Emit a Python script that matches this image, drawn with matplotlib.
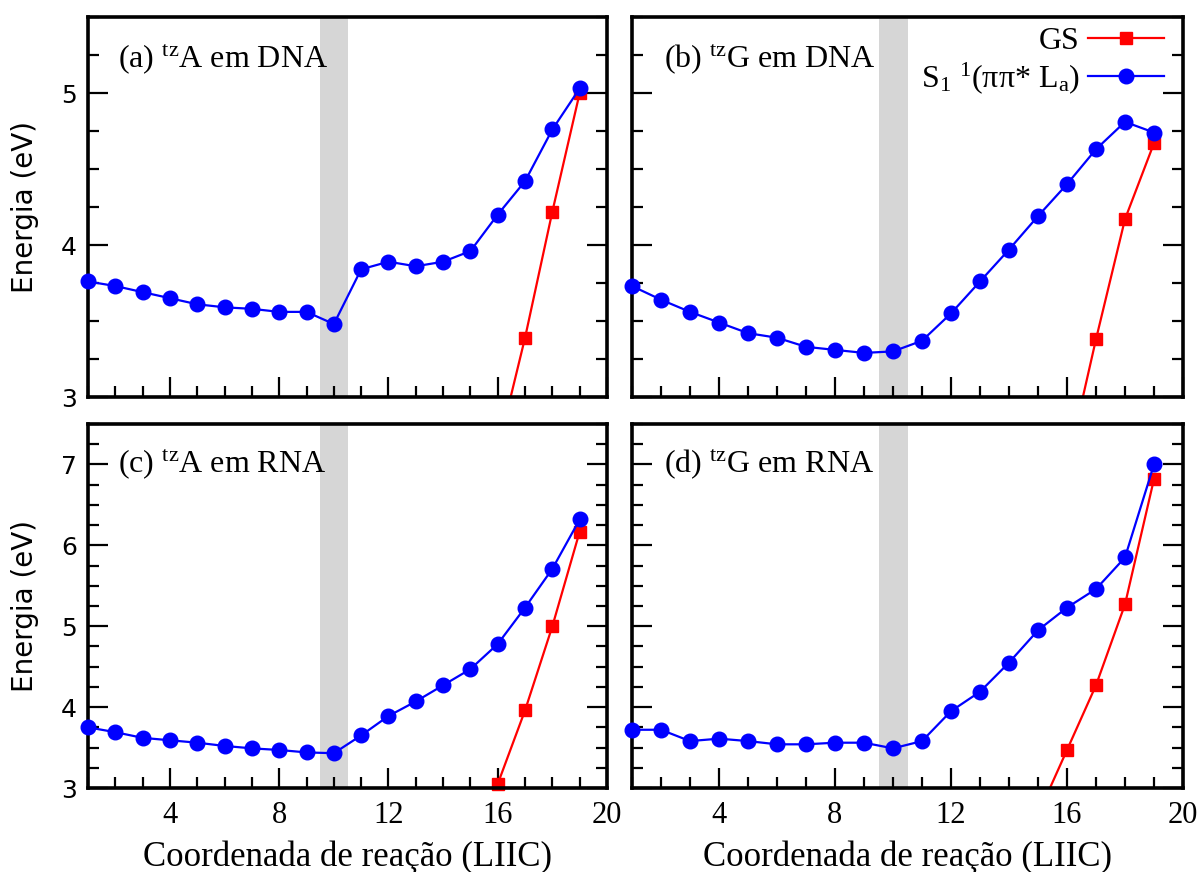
import matplotlib
matplotlib.use("Agg")
import matplotlib.pyplot as plt
from matplotlib.ticker import MultipleLocator

plt.rcParams['font.family'] = ['Liberation Serif', 'DejaVu Serif']
plt.rcParams['mathtext.fontset'] = 'custom'
plt.rcParams['mathtext.rm'] = 'Liberation Serif'
plt.rcParams['mathtext.it'] = 'Liberation Serif:italic'

# reaction coordinate (LIIC points)
x_s1 = list(range(1, 20))

# S1 1(pipi* La) energies (eV)
s1_a = [3.76, 3.73, 3.69, 3.65, 3.61, 3.59, 3.58, 3.56, 3.56, 3.48,
        3.84, 3.89, 3.86, 3.89, 3.96, 4.20, 4.42, 4.76, 5.03]
s1_b = [3.73, 3.64, 3.56, 3.49, 3.42, 3.39, 3.33, 3.31, 3.29, 3.30,
        3.37, 3.55, 3.76, 3.97, 4.19, 4.40, 4.63, 4.81, 4.74]
s1_c = [3.75, 3.69, 3.62, 3.59, 3.56, 3.52, 3.49, 3.47, 3.44, 3.43,
        3.65, 3.89, 4.07, 4.27, 4.47, 4.78, 5.23, 5.71, 6.32]
s1_d = [3.72, 3.72, 3.58, 3.61, 3.58, 3.54, 3.54, 3.56, 3.56, 3.49,
        3.58, 3.95, 4.19, 4.55, 4.95, 5.23, 5.46, 5.85, 7.00]

# ground state energies (eV)
gs_x_a = [16, 17, 18, 19]
gs_a = [2.65, 3.39, 4.22, 5.00]
gs_x_b = [16, 17, 18, 19]
gs_b = [2.54, 3.38, 4.17, 4.67]
gs_x_c = [16, 17, 18, 19]
gs_c = [3.05, 3.96, 5.00, 6.17]
gs_x_d = [15, 16, 17, 18, 19]
gs_d = [2.67, 3.47, 4.27, 5.27, 6.82]

labels = ['(a) $^{\\mathrm{tz}}$A em DNA', '(b) $^{\\mathrm{tz}}$G em DNA',
          '(c) $^{\\mathrm{tz}}$A em RNA', '(d) $^{\\mathrm{tz}}$G em RNA']

W, H = 1202, 872
fig = plt.figure(figsize=(W / 100, H / 100), dpi=100)


def make_ax(l, t, r, b):
    return fig.add_axes([l / W, 1 - b / H, (r - l) / W, (b - t) / H])


boxes = [(88, 17, 607, 397), (632, 17, 1183, 397),
         (88, 424, 607, 788), (632, 424, 1183, 788)]
s1_all = [s1_a, s1_b, s1_c, s1_d]
gs_all = [(gs_x_a, gs_a), (gs_x_b, gs_b), (gs_x_c, gs_c), (gs_x_d, gs_d)]

axes = []
for i, box in enumerate(boxes):
    ax = make_ax(*box)
    axes.append(ax)
    ax.axvspan(9.5, 10.5, color='#d6d6d6', lw=0, zorder=0)
    gx, gy = gs_all[i]
    # only clip the GS curve where it runs below the axis
    ax.plot(gx, gy, color='red', marker='s', markersize=9, lw=1.6,
            label='GS', zorder=2, clip_on=min(gy) < 3)
    ax.plot(x_s1, s1_all[i], color='blue', marker='o', markersize=10.5,
            lw=1.6, label='S$_\\mathrm{1}$ $^\\mathrm{1}$(ππ* L$_\\mathrm{a}$)',
            zorder=3, clip_on=False)
    ax.set_xlim(1, 20)
    if i < 2:
        ax.set_ylim(3, 5.5)
    else:
        ax.set_ylim(3, 7.5)
    ax.yaxis.set_major_locator(MultipleLocator(1))
    ax.yaxis.set_minor_locator(MultipleLocator(0.25))
    ax.xaxis.set_major_locator(MultipleLocator(4))
    ax.xaxis.set_minor_locator(MultipleLocator(1))
    ax.tick_params(which='both', direction='in', top=False, right=True,
                   width=1.6)
    ax.tick_params(which='major', length=14.5)
    ax.tick_params(which='minor', length=8)
    ax.tick_params(axis='x', labelsize=22, pad=9)
    ax.tick_params(axis='y', labelsize=18, pad=8)
    for lab in ax.get_yticklabels():
        lab.set_family('DejaVu Sans')
    for sp in ax.spines.values():
        sp.set_linewidth(2.6)
    if i < 2:
        ax.set_xticklabels([])
    if i % 2 == 1:
        ax.set_yticklabels([])
    else:
        ax.set_ylabel('Energia (eV)', fontsize=20, family='DejaVu Sans')
        ax.yaxis.set_label_coords(-0.095, 0.5)
    if i >= 2:
        ax.set_xlabel('Coordenada de reação (LIIC)', fontsize=25)
        ax.xaxis.set_label_coords(0.5, -0.145)
    ax.text(0.058, 0.89, labels[i], transform=ax.transAxes, fontsize=23,
            va='center', ha='left')

axes[1].legend(loc='upper right', bbox_to_anchor=(0.966, 0.975),
               frameon=False, markerfirst=False, fontsize=23,
               borderaxespad=0, borderpad=0, handlelength=2.4,
               handletextpad=0.25, labelspacing=0.15)

fig.savefig('out.png', dpi=100)
